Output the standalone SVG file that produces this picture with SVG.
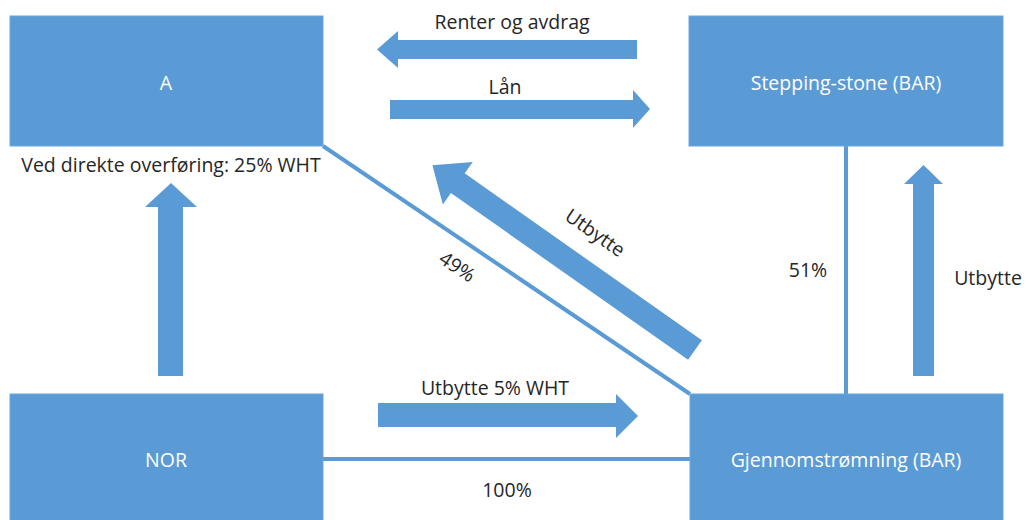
<svg xmlns="http://www.w3.org/2000/svg" width="1026" height="520" viewBox="0 0 1026 520">
  <style>
    .box { fill: #5b9bd5; stroke: #6aa5db; stroke-width: 1; }
    .flow { fill: #5b9bd5; }
    .link { stroke: #5b9bd5; stroke-width: 4; fill: none; }
    .lbl { font-family: "Open Sans", "Liberation Sans", sans-serif; font-size: 19.5px; text-anchor: middle; }
    .in { fill: #ffffff; }
    .out { fill: #262626; }
  </style>
  <rect width="1026" height="520" fill="#ffffff"/>

  <!-- ownership lines -->
  <g id="connectors">
    <line class="link" x1="323" y1="146" x2="690" y2="394"/>
    <line class="link" x1="846" y1="146" x2="846" y2="394"/>
    <line class="link" x1="323" y1="459" x2="690" y2="459"/>
    <text class="lbl out" transform="translate(457 267) rotate(34)" y="6.5">49%</text>
    <text class="lbl out" x="808" y="276.5">51%</text>
    <text class="lbl out" x="507" y="496.5">100%</text>
  </g>

  <!-- payment flows -->
  <g id="flows">
    <path class="flow" d="M637,40 L398,40 L398,31 L377,49.5 L398,68 L398,59 L637,59 Z"/>
    <text class="lbl out" x="512" y="28.5">Renter og avdrag</text>
    <path class="flow" d="M390,100 L633,100 L633,90 L650,109 L633,128 L633,119 L390,119 Z"/>
    <text class="lbl out" x="505" y="94">Lån</text>
    <path class="flow" d="M158,376 L158,207 L145,207 L171,183 L197,207 L183,207 L183,376 Z"/>
    <text class="lbl out" x="171" y="171.5">Ved direkte overføring: 25% WHT</text>
    <path class="flow" d="M378,403 L616,403 L616,394 L638,416 L616,438 L616,427 L378,427 Z"/>
    <text class="lbl out" x="495" y="394.5">Utbytte 5% WHT</text>
    <path class="flow" d="M913,376 L913,184 L904,184 L923.5,165 L943,184 L934,184 L934,376 Z"/>
    <text class="lbl out" x="988" y="284.5">Utbytte</text>
    <path class="flow" transform="translate(695 350) rotate(215.12)" d="M0,-12 L290,-12 L290,-26 L321,0 L290,26 L290,12 L0,12 Z"/>
    <text class="lbl out" transform="translate(595 233) rotate(35)" y="6.5">Utbytte</text>
  </g>

  <g id="node-a">
    <rect class="box" x="10" y="16" width="313" height="130"/>
    <text class="lbl in" x="166" y="89.5">A</text>
  </g>
  <g id="node-stepping-stone">
    <rect class="box" x="689" y="16" width="314" height="130"/>
    <text class="lbl in" x="846" y="89.5">Stepping-stone (BAR)</text>
  </g>
  <g id="node-nor">
    <rect class="box" x="10" y="394" width="313" height="130"/>
    <text class="lbl in" x="166" y="466.5">NOR</text>
  </g>
  <g id="node-gjennomstromning">
    <rect class="box" x="690" y="394" width="313" height="130"/>
    <text class="lbl in" x="846" y="466.5">Gjennomstrømning (BAR)</text>
  </g>
</svg>
